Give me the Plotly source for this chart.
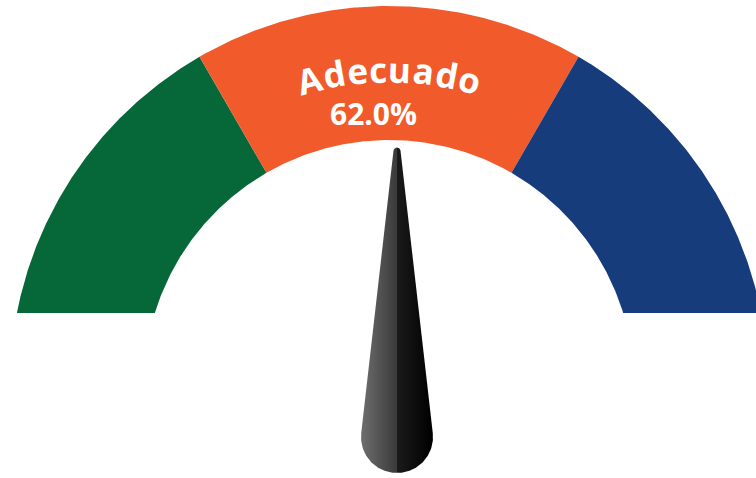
import numpy as np
import plotly.graph_objects as go

# ---- data ----
categories = ["Bajo", "Adecuado", "Alto"]
segment_sizes = [1, 1, 1]
segment_colors = ["#066839", "#F15A2B", "#163C7C"]
current_category = "Adecuado"
current_value = 62.0  # percent

# ---- geometry (pixel-like data space, y up) ----
W, H = 756, 478
cx, cy = 389, H - 385          # gauge centre
R_out, R_in = 379, 245
cut_y = H - 313                 # horizontal cut of the gauge
needle_x, needle_base_y = 397, H - 437
needle_tip_y = H - 151
needle_base_r, needle_tip_r = 36, 3.5

fig = go.Figure()

total = sum(segment_sizes)
bounds = np.cumsum([0] + segment_sizes) / total   # fraction 0..1
th_o = np.degrees(np.arcsin((cut_y - cy) / R_out))
th_i = np.degrees(np.arcsin((cut_y - cy) / R_in))

for k, cat in enumerate(categories):
    a_start = 180 - bounds[k] * 180
    a_end = 180 - bounds[k + 1] * 180
    lo, hi = min(a_start, a_end), max(a_start, a_end)
    o_lo, o_hi = max(lo, th_o), min(hi, 180 - th_o)
    i_lo, i_hi = max(lo, th_i), min(hi, 180 - th_i)
    ao = np.radians(np.linspace(o_lo, o_hi, 200))
    ai = np.radians(np.linspace(i_hi, i_lo, 200))
    xs = np.concatenate([cx + R_out * np.cos(ao), cx + R_in * np.cos(ai)])
    ys = np.concatenate([cy + R_out * np.sin(ao), cy + R_in * np.sin(ai)])
    fig.add_trace(go.Scatter(
        x=np.append(xs, xs[0]), y=np.append(ys, ys[0]),
        mode="lines", fill="toself", fillcolor=segment_colors[k],
        line=dict(width=0, color=segment_colors[k]),
        hoverinfo="skip", showlegend=False, name=cat))

# ---- needle pointing at the centre of the current category ----
idx = categories.index(current_category)
needle_ang = 180 - (bounds[idx] + bounds[idx + 1]) / 2 * 180   # degrees
L = needle_tip_y - needle_base_y
phi = np.arcsin((needle_base_r - needle_tip_r) / L)
up = np.radians(needle_ang)
tip_c = (needle_x + L * np.cos(up), needle_base_y + L * np.sin(up))
t1 = np.linspace(up - np.pi / 2 + phi, up + np.pi / 2 - phi, 30)
t2 = np.linspace(up + np.pi / 2 - phi, up + 3 * np.pi / 2 + phi, 120)
nx = np.concatenate([tip_c[0] + needle_tip_r * np.cos(t1),
                     needle_x + needle_base_r * np.cos(t2)])
ny = np.concatenate([tip_c[1] + needle_tip_r * np.sin(t1),
                     needle_base_y + needle_base_r * np.sin(t2)])
fig.add_trace(go.Scatter(
    x=np.append(nx, nx[0]), y=np.append(ny, ny[0]),
    mode="lines", fill="toself",
    fillgradient=dict(type="horizontal",
                      colorscale=[[0, "#6e6e6e"], [0.5, "#3a3a3a"],
                                  [0.505, "#1a1a1a"], [1, "#000000"]]),
    line=dict(width=0, color="#222"),
    hoverinfo="skip", showlegend=False))

# ---- curved label (letters laid out along an arc) ----
FONT_SIZE = 35
glyph_em = {"A": 0.69, "d": 0.615, "e": 0.568, "c": 0.479, "u": 0.625,
            "a": 0.581, "o": 0.602}
tracking = 2.5
r_text = 316
widths = [glyph_em.get(ch, 0.6) * FONT_SIZE + tracking for ch in current_category]
pos = -sum(widths) / 2
annotations = []
for ch, w in zip(current_category, widths):
    s = pos + w / 2
    pos += w
    ang = s / r_text   # radians from vertical
    annotations.append(dict(
        x=cx + r_text * np.sin(ang), y=cy + r_text * np.cos(ang),
        xref="x", yref="y", text=ch, showarrow=False,
        textangle=np.degrees(ang),
        font=dict(family="Open Sans", size=FONT_SIZE, color="white", weight=700)))

annotations.append(dict(
    x=373, y=H - 113.5, xref="x", yref="y", text=f"{current_value:.1f}%",
    showarrow=False,
    font=dict(family="Open Sans", size=30, color="white", weight=700)))

fig.update_layout(
    width=W, height=H, margin=dict(l=0, r=0, t=0, b=0),
    paper_bgcolor="white", plot_bgcolor="white",
    xaxis=dict(range=[0, W], visible=False, fixedrange=True),
    yaxis=dict(range=[0, H], visible=False, fixedrange=True),
    annotations=annotations, showlegend=False)

fig.write_html("out.html", config={"displayModeBar": False},
               post_script="document.body.style.margin='0';document.body.style.overflow='hidden';")
